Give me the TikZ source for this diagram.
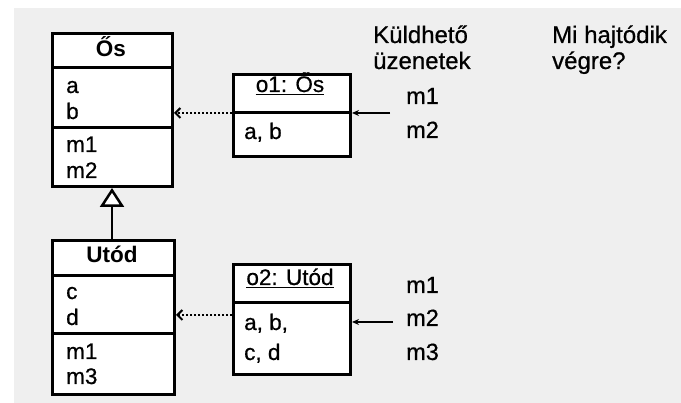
\documentclass[tikz,border=0pt]{standalone}
\usepackage{fontspec}
\setmainfont{Liberation Sans}[UprightFeatures={FakeBold=0.6}]
\usetikzlibrary{arrows.meta}
\definecolor{bggray}{HTML}{EFEFEF}
\begin{document}
\begin{tikzpicture}[x=1pt,y=-1pt,
  umlbox/.style={draw,line width=3pt,fill=white,inner sep=0pt,anchor=north west},
  sepline/.style={line width=3pt},
  boxtext/.style={anchor=base west,inner sep=0pt,font=\fontsize{22.5}{26}\selectfont},
  boxtitle/.style={anchor=base,inner sep=0pt,font=\fontsize{22.5}{26}\selectfont},
  msgtext/.style={anchor=base west,inner sep=0pt,font=\fontsize{23.5}{26}\selectfont},
  headtext/.style={anchor=base west,inner sep=0pt,font=\fontsize{24}{26}\selectfont},
  uline/.style={line width=1.5pt},
  dotarrow/.style={line width=2.5pt,dash pattern=on 2pt off 2pt,-{Straight Barb[length=5pt,width=10pt,line width=2pt,sep=0pt]}},
  msgarrow/.style={line width=2pt,-{Stealth[length=7pt,width=6pt]}},
  inherit/.style={line width=2.5pt,-{Triangle[open,length=19pt,width=24pt,line width=2.5pt,fill=white]}}
]
\useasboundingbox (0,0) rectangle (681,403);
\fill[white] (0,0) rectangle (681,403);
\fill[bggray] (14,8) rectangle (681,403);

% class Os
\node[umlbox,minimum width=120pt,minimum height=153pt] (os) at (51,32) {};
\draw[sepline] (os.west |- 0,68) -- (os.east |- 0,68);
\draw[sepline] (os.west |- 0,128) -- (os.east |- 0,128);
\node[boxtitle] (osT) at (111,57) {\bfseries Ős};
\node[boxtext] (osA) at (66,93) {a};
\node[boxtext] (osB) at (66,119) {b};
\node[boxtext] (osM1) at (66,152) {m1};
\node[boxtext] (osM2) at (66,178) {m2};

% class Utod
\node[umlbox,minimum width=122pt,minimum height=154pt] (ut) at (51,239) {};
\draw[sepline] (ut.west |- 0,276) -- (ut.east |- 0,276);
\draw[sepline] (ut.west |- 0,334) -- (ut.east |- 0,334);
\node[boxtitle] (utT) at (112,263) {\bfseries Utód};
\node[boxtext] (utC) at (66,299) {c};
\node[boxtext] (utD) at (66,325) {d};
\node[boxtext] (utM1) at (66,359) {m1};
\node[boxtext] (utM3) at (66,384) {m3};

% object o1
\node[umlbox,minimum width=117pt,minimum height=82pt] (o1) at (232,73) {};
\draw[sepline] (o1.west |- 0,113) -- (o1.east |- 0,113);
\node[boxtitle] (o1T) at (290,92) {o1: Ős};
\draw[uline] ([yshift=-2.5pt]o1T.base west) -- ([yshift=-2.5pt]o1T.base east);
\node[boxtext] (o1A) at (244,139) {a, b};

% object o2
\node[umlbox,minimum width=117pt,minimum height=110pt] (o2) at (232,263) {};
\draw[sepline] (o2.west |- 0,303) -- (o2.east |- 0,303);
\node[boxtitle] (o2T) at (290,285) {o2: Utód};
\draw[uline] ([yshift=-2.5pt]o2T.base west) -- ([yshift=-2.5pt]o2T.base east);
\node[boxtext] (o2A) at (244,330) {a, b,};
\node[boxtext] (o2C) at (244,360) {c, d};

% inheritance
\draw[inherit] (ut.north -| 112,0) -- (os.south -| 112,0);

% instance-of arrows
\draw[dotarrow] (o1.west |- 0,113) -- (os.east |- 0,113);
\draw[dotarrow] (o2.west |- 0,315) -- (ut.east |- 0,315);

% messages
\coordinate (s1) at (390,113);
\coordinate (s2) at (393,322);
\draw[msgarrow] (s1) -- (o1.east |- s1);
\draw[msgarrow] (s2) -- (o2.east |- s2);

\node[msgtext] (m11) at (406,104) {m1};
\node[msgtext] (m12) at (406,138) {m2};
\node[msgtext] (m21) at (406,293) {m1};
\node[msgtext] (m22) at (406,326) {m2};
\node[msgtext] (m23) at (406,360) {m3};

% headers
\node[headtext] (h1a) at (373,43) {Küldhető};
\node[headtext] (h1b) at (373,69) {üzenetek};
\node[headtext] (h2a) at (552,43) {Mi hajtódik};
\node[headtext] (h2b) at (552,69) {végre?};
\end{tikzpicture}
\end{document}
